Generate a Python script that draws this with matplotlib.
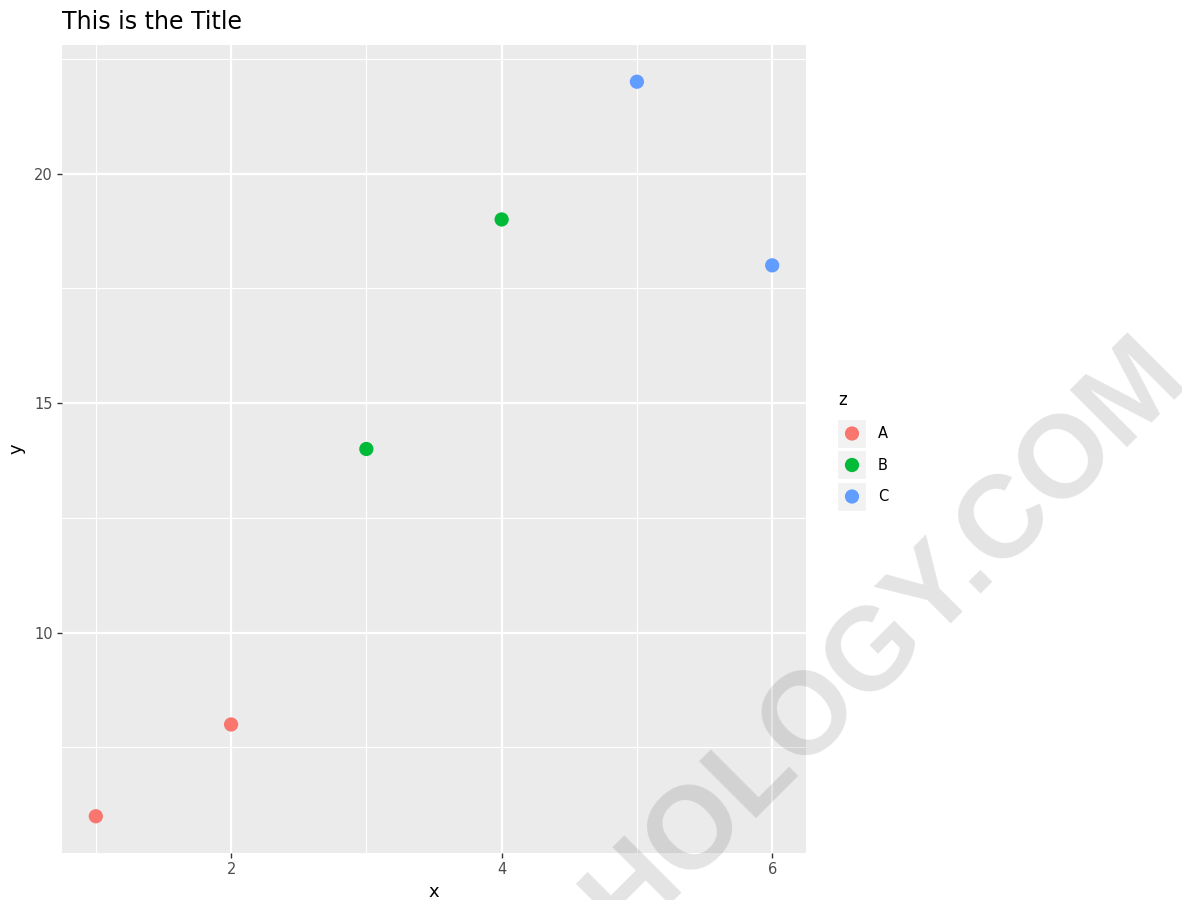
import matplotlib
matplotlib.use("Agg")
import matplotlib.pyplot as plt
from matplotlib.patches import Rectangle
from matplotlib.ticker import FixedLocator

# ---- data ----
x = [1, 2, 3, 4, 5, 6]
y = [6, 8, 14, 19, 22, 18]
z = ["A", "A", "B", "B", "C", "C"]
groups = ["A", "B", "C"]
palette = {"A": "#F8766D", "B": "#00BA38", "C": "#619CFF"}
x_major = [2, 4, 6]
x_minor = [1, 3, 5]
y_major = [10, 15, 20]
y_minor = [7.5, 12.5, 17.5, 22.5]
title = "This is the Title"
watermark = "HOLOGY.COM"

W, H = 1182, 900
fig = plt.figure(figsize=(W / 100, H / 100), dpi=100)
plt.rcParams["font.family"] = ["DejaVu Sans"]

L, R, T, B = 62, 806, 45, 853
ax = fig.add_axes([L / W, 1 - B / H, (R - L) / W, (B - T) / H])
ax.set_facecolor("#EBEBEB")
for s in ax.spines.values():
    s.set_visible(False)

xr = max(x) - min(x)
yr = max(y) - min(y)
ax.set_xlim(min(x) - 0.05 * xr, max(x) + 0.05 * xr)
ax.set_ylim(min(y) - 0.05 * yr, max(y) + 0.05 * yr)

ax.xaxis.set_major_locator(FixedLocator(x_major))
ax.xaxis.set_minor_locator(FixedLocator(x_minor))
ax.yaxis.set_major_locator(FixedLocator(y_major))
ax.yaxis.set_minor_locator(FixedLocator(y_minor))
ax.grid(which="major", color="white", linewidth=1.6)
ax.grid(which="minor", color="white", linewidth=0.8)
ax.set_axisbelow(True)
ax.tick_params(which="major", length=3.5, width=1.0, color="#333333",
               labelcolor="#4D4D4D", labelsize=10.5, pad=3)
ax.tick_params(which="minor", length=0)

for g in groups:
    xs = [xi for xi, zi in zip(x, z) if zi == g]
    ys = [yi for yi, zi in zip(y, z) if zi == g]
    ax.scatter(xs, ys, s=105, color=palette[g], edgecolors="none", zorder=3)

ax.set_xlabel("x", fontsize=13, color="black", labelpad=4)
ax.set_ylabel("y", fontsize=13, color="black", labelpad=6)

fig.text(L / W, 1 - 22 / H, title, fontsize=17, color="black",
         ha="left", va="center")

# overlay axes in pixel coordinates for legend + watermark
ov = fig.add_axes([0, 0, 1, 1], facecolor="none")
ov.set_xlim(0, W)
ov.set_ylim(H, 0)
ov.axis("off")

ov.text(838, 400, "z", fontsize=12, ha="left", va="center", color="black")
for i, g in enumerate(groups):
    top = 419.5 + i * 31.5
    ov.add_patch(Rectangle((838, top), 28, 28, facecolor="#F2F2F2",
                           edgecolor="none"))
    ov.scatter([852], [top + 14], s=105, color=palette[g], edgecolors="none")
    ov.text(878, top + 14, g, fontsize=10.5, ha="left", va="center",
            color="black")

ov.text(907, 660, watermark, fontsize=84, fontweight="bold",
        family="Liberation Sans", color="black", alpha=0.11,
        rotation=45, rotation_mode="anchor", ha="center", va="baseline",
        zorder=10, clip_on=False)

fig.savefig("out.png", dpi=100)
